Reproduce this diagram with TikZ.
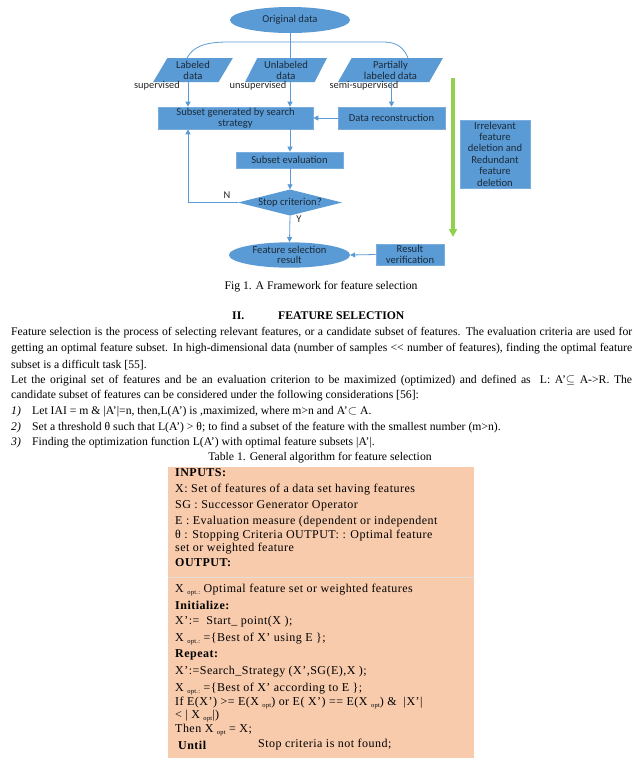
\documentclass[tikz,border=0pt]{standalone}
\usepackage{fontspec}
\setmainfont{Liberation Serif}
\newfontfamily\flowfont{Carlito}
\newfontfamily\tabfont[LetterSpace=4]{Liberation Serif}
\usetikzlibrary{shapes.geometric,arrows.meta}
\definecolor{boxblue}{HTML}{5B9BD5}
\definecolor{boxedge}{HTML}{79ADDE}
\definecolor{flowtxt}{HTML}{1B2A3A}
\definecolor{arrblue}{HTML}{5B9BD5}
\definecolor{grn}{HTML}{92D050}
\definecolor{peach}{HTML}{F8CBAD}
\definecolor{sepcol}{HTML}{E4DCD6}
\newcommand\sbs[1]{\raisebox{-1.3pt}{\fontsize{6.5}{7}\selectfont #1}}
\begin{document}
\begin{tikzpicture}[x=1pt,y=-1pt,
  fbox/.style={rectangle, fill=boxblue, draw=boxedge, line width=0.6pt, inner sep=0pt, align=center, text=flowtxt, font=\flowfont\fontsize{10.6}{11.4}\selectfont},
  fell/.style={ellipse, fill=boxblue, draw=none, inner sep=0pt, align=center, text=flowtxt, font=\flowfont\fontsize{10.6}{10.5}\selectfont},
  fpara/.style={trapezium, trapezium left angle=63, trapezium right angle=117, trapezium stretches=true, fill=boxblue, draw=none, inner sep=0pt, align=center, text=flowtxt, minimum height=24pt, font=\flowfont\fontsize{10.6}{11}\selectfont},
  fdia/.style={rectangle, draw=none, inner sep=0pt, text=flowtxt, font=\flowfont\fontsize{10.6}{11}\selectfont},
  flab/.style={font=\flowfont\fontsize{10.4}{10}\selectfont, text=black!85, inner sep=0pt},
  arr/.style={draw=arrblue, line width=0.8pt, -{Triangle[width=5pt,length=5pt]}},
  cline/.style={draw=arrblue, line width=0.8pt},
  garr/.style={draw=grn, line width=3.5pt, -{Triangle[width=8pt,length=8pt]}},
  bodyl/.style={font=\fontsize{11.7}{13}\selectfont, inner sep=0pt, anchor=west},
  bodyc/.style={font=\fontsize{11.7}{13}\selectfont, inner sep=0pt},
  tline/.style={font=\tabfont\fontsize{12}{12}\selectfont, inner sep=0pt, anchor=west},
]
\useasboundingbox (0,0) rectangle (643,763);
\fill[white] (0,0) rectangle (643,763);

% ---------- flowchart ----------
\node[fell, minimum width=120pt, minimum height=26pt] (orig) at (290,20) {Original data};
\node[fpara, minimum width=80pt] (lab) at (193,70) {Labeled\\data};
\node[fpara, minimum width=82pt] (unl) at (286,70) {Unlabeled\\data};
\node[fpara, minimum width=105pt] (par) at (390.5,70) {Partially\\labeled data};

\node[flab] (slab) at (157,86) {supervised};
\node[flab] (ulab) at (258,86) {unsupervised};
\node[flab] (sslab) at (364,86) {semi-supervised};

\node[fbox, minimum width=155pt, minimum height=22pt] (sub) at (235.5,118) {Subset generated by search\\strategy};
\node[fbox, minimum width=107pt, minimum height=22pt] (rec) at (391.5,118) {Data reconstruction};
\node[fbox, minimum width=107pt, minimum height=16pt] (eval) at (289.5,160) {Subset evaluation};
\fill[boxblue] (238,202.5) -- (290,189.5) -- (342,202.5) -- (290,215.5) -- cycle;
\node[fdia, minimum width=104pt, minimum height=26pt] (stop) at (290,202.5) {Stop criterion?};
\node[fell, minimum width=121pt, minimum height=24pt] (res) at (289.5,255) {Feature selection\\result};
\node[fbox, minimum width=68pt, minimum height=21pt, font=\flowfont\fontsize{10.6}{10.5}\selectfont] (ver) at (410,254.5) {Result\\verification};
\node[fbox, minimum width=70pt, minimum height=68pt] (irr) at (495,154) {Irrelevant\\feature\\deletion and\\Redundant\\feature\\deletion};

\node[flab] (nlab) at (227,195) {N};
\node[flab] (ylab) at (299,219) {Y};

\coordinate (xl) at (188,0);
\coordinate (xc) at (290,0);
\coordinate (ca) at (187,58);
\coordinate (cb) at (408,58);
\coordinate (g1) at (453,78);
\coordinate (g2) at (453,237);

\draw[cline] (orig.south) -- (orig.south |- unl.north);
\draw[cline] (ca) .. controls (193,47) and (204,42) .. (228,42) -- (384,42) .. controls (397,42) and (404,48) .. (cb);
\draw[arr] (lab.south -| xl) -- (sub.north -| xl);
\draw[arr] (unl.south -| xc) -- (sub.north -| xc);
\draw[arr] (par.south -| rec.north) -- (rec.north);
\draw[arr] (rec.west) -- (sub.east);
\draw[arr] (sub.south -| xc) -- (eval.north -| xc);
\draw[arr] (eval.south -| xc) -- (stop.north);
\draw[arr] (stop.west) -- (stop.west -| xl) -- (sub.south -| xl);
\draw[arr] (stop.south) -- (res.north);
\draw[arr] (ver.west) -- (res.east);
\draw[garr] (g1) -- (g2);

% ---------- text ----------
\node[bodyc] (cap1) at (321,287) {Fig 1. A Framework for feature selection};
\node[bodyl] (h1) at (232,316) {\textbf{II.}};
\node[bodyl] (h2) at (278,316) {\textbf{FEATURE SELECTION}};

\node[bodyl] (p1) at (11,333) {\makebox[621pt][s]{Feature selection is the process of selecting relevant features, or a candidate subset of features. The evaluation criteria are used for}};
\node[bodyl] (p2) at (11,349) {\makebox[621pt][s]{getting an optimal feature subset. In high-dimensional data (number of samples <{}< number of features), finding the optimal feature}};
\node[bodyl] (p3) at (11,365) {subset is a difficult task [55].};
\node[bodyl] (p4) at (11,381) {\makebox[621pt][s]{Let the original set of features and be an evaluation criterion to be maximized (optimized) and defined as\ \ L: A’$\subseteq$ A->R. The}};
\node[bodyl] (p5) at (11,396) {candidate subset of features can be considered under the following considerations [56]:};
\node[bodyl] (n1) at (11,412) {\textit{1)}};
\node[bodyl] (l1) at (32,412) {Let IAI = m \& |A’|=n, then,L(A’) is ,maximized, where m>n and A’$\subset$ A.};
\node[bodyl] (n2) at (11,428) {\textit{2)}};
\node[bodyl] (l2) at (32,428) {Set a threshold θ such that L(A’) > θ; to find a subset of the feature with the smallest number (m>n).};
\node[bodyl] (n3) at (11,443) {\textit{3)}};
\node[bodyl] (l3) at (32,443) {Finding the optimization function L(A’) with optimal feature subsets |A’|.};
\node[bodyc] (cap2) at (320,458) {Table 1. General algorithm for feature selection};

% ---------- table ----------
\fill[peach] (168,467) rectangle (474,758);
\draw[sepcol, line width=1pt] (168,577) -- (474,577);

\node[tline] (t1) at (175,473) {\textbf{INPUTS:}};
\node[tline] (t2) at (175,490) {X: Set of features of a data set having features};
\node[tline] (t3) at (175,506) {SG : Successor Generator Operator};
\node[tline] (t4) at (175,522) {E : Evaluation measure (dependent or independent};
\node[tline] (t5) at (175,536) {θ : Stopping Criteria OUTPUT: : Optimal feature};
\node[tline] (t6) at (175,549) {set or weighted feature};
\node[tline] (t7) at (175,563) {\textbf{OUTPUT:}};
\node[tline] (t8) at (175,590) {X \sbs{opt.:} Optimal feature set or weighted features};
\node[tline] (t9) at (175,605) {\textbf{Initialize:}};
\node[tline] (t10) at (175,622) {X’:=\ \ Start\_ point(X );};
\node[tline] (t11) at (175,639) {X \sbs{opt.:} =\{Best of X’ using E \};};
\node[tline] (t12) at (175,655) {\textbf{Repeat:}};
\node[tline] (t13) at (175,672) {X’:=Search\_Strategy (X’,SG(E),X );};
\node[tline] (t14) at (175,689) {X \sbs{opt.:} =\{Best of X’ according to E \};};
\node[tline] (t15) at (175,703) {If E(X’) >= E(X \sbs{opt}) or E( X’) == E(X \sbs{opt}) \&\ \ |X’|};
\node[tline] (t16) at (175,716) {< | X \sbs{opt}|)};
\node[tline] (t17) at (175,730) {Then X \sbs{opt} = X;};
\node[tline] (t18) at (178,745) {\textbf{Until}};
\node[tline] (t19) at (258,745) {Stop criteria is not found;};
\end{tikzpicture}
\end{document}
